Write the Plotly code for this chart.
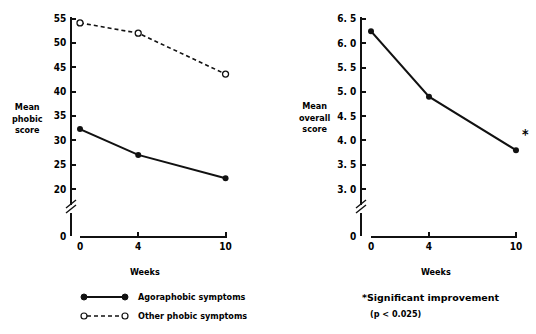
import plotly.graph_objects as go

weeks = [0, 4, 10]
agoraphobic = [32.3, 27.0, 22.2]
other_phobic = [54.1, 52.0, 43.6]
overall = [6.25, 4.9, 3.8]

left_yticks = [20, 25, 30, 35, 40, 45, 50, 55]
right_yticks = [3.0, 3.5, 4.0, 4.5, 5.0, 5.5, 6.0, 6.5]
right_yticklabels = ["3. 0", "3. 5", "4. 0", "4. 5", "5. 0", "5. 5", "6. 0", "6. 5"]

W, H = 536, 334
def fx(px):
    return px / W
def fy(py):
    return 1 - py / H

FONT = "DejaVu Sans Condensed, Liberation Sans, Arial"
tickfont = dict(family=FONT, size=10, color="black", weight="bold")
K = "#111"

fig = go.Figure()

fig.add_trace(go.Scatter(x=weeks, y=agoraphobic, mode="lines+markers",
                         line=dict(color=K, width=2), cliponaxis=False,
                         marker=dict(size=6, color=K),
                         xaxis="x", yaxis="y", showlegend=False))
fig.add_trace(go.Scatter(x=weeks, y=other_phobic, mode="lines+markers",
                         line=dict(color=K, width=1.6, dash="4px,3px"), cliponaxis=False,
                         marker=dict(size=6, color="white", line=dict(color=K, width=1.3)),
                         xaxis="x", yaxis="y", showlegend=False))
fig.add_trace(go.Scatter(x=weeks, y=overall, mode="lines+markers",
                         line=dict(color=K, width=2), cliponaxis=False,
                         marker=dict(size=6, color=K),
                         xaxis="x2", yaxis="y3", showlegend=False))
# invisible traces so the lower (broken) axis segments are drawn
for xa, ya in (("x", "y2"), ("x2", "y4")):
    fig.add_trace(go.Scatter(x=[weeks[0]], y=[0], mode="markers", opacity=0,
                             hoverinfo="skip", xaxis=xa, yaxis=ya, showlegend=False))

up_dom = [fy(205), fy(17)]
low_dom = [fy(236), fy(213)]

common_y = dict(showline=True, linecolor=K, linewidth=1.5, ticks="inside",
                ticklen=4, tickwidth=1.5, tickcolor=K, showgrid=False,
                zeroline=False, tickfont=tickfont, anchor="free", ticklabelstandoff=2,
                automargin=False)
common_x = dict(showline=True, linecolor=K, linewidth=1.5, ticks="inside",
                ticklen=4, tickwidth=1.5, tickcolor=K, showgrid=False,
                zeroline=False, tickfont=tickfont, tickvals=weeks, automargin=False)

fig.update_layout(
    template="none",
    width=W, height=H, margin=dict(l=0, r=0, t=0, b=0, autoexpand=False),
    paper_bgcolor="white", plot_bgcolor="white", showlegend=False,
    xaxis=dict(domain=[fx(80), fx(227)], range=[0, 10.1], anchor="y2", **common_x),
    yaxis=dict(domain=up_dom, range=[16.72, 55.31], tickvals=left_yticks,
               position=fx(71), **common_y),
    yaxis2=dict(domain=low_dom, range=[0, 1], tickvals=[0], position=fx(71), **common_y),
    xaxis2=dict(domain=[fx(371), fx(517)], range=[0, 10.07], anchor="y4", **common_x),
    yaxis3=dict(domain=up_dom, range=[2.671, 6.541], tickvals=right_yticks,
                ticktext=right_yticklabels, position=fx(361), **common_y),
    yaxis4=dict(domain=low_dom, range=[0, 1], tickvals=[0], position=fx(361), **common_y),
)

ann_font = dict(family=FONT, size=9, color="black", weight="bold")
def ann(text, px, py, xanchor="center", font=ann_font, align="center"):
    return dict(text=text, x=fx(px), y=fy(py), xref="paper", yref="paper",
                xanchor=xanchor, yanchor="middle", showarrow=False, font=font, align=align)

annotations = [
    ann("Mean<br>phobic<br>score", 27, 118),
    ann("Mean<br>overall<br>score", 315, 117),
    ann("Weeks", 145, 272),
    ann("Weeks", 436, 272),
    ann("*", 525, 134, font=dict(family=FONT, size=14, color="black", weight="bold")),
    ann("Agoraphobic symptoms", 136, 297, xanchor="left"),
    ann("Other phobic symptoms", 136, 316, xanchor="left"),
    ann("*Significant improvement", 360, 297, xanchor="left",
        font=dict(family="DejaVu Sans, Liberation Sans", size=9.5, color="black", weight="bold")),
    ann("(p < 0.025)", 368, 314, xanchor="left"),
]
fig.update_layout(annotations=annotations)

shapes = []
# axis break marks
for ax_px in (71, 361):
    shapes.append(dict(type="rect", xref="paper", yref="paper", layer="above",
                       x0=fx(ax_px - 2), x1=fx(ax_px + 2), y0=fy(212), y1=fy(205),
                       fillcolor="white", line=dict(width=0)))
    for dy in (0, 5):
        shapes.append(dict(type="line", xref="paper", yref="paper",
                           x0=fx(ax_px - 5), y0=fy(213 - dy), x1=fx(ax_px + 5), y1=fy(205 - dy),
                           line=dict(color=K, width=1.5)))

# legend samples
shapes.append(dict(type="line", xref="paper", yref="paper", x0=fx(84), x1=fx(125),
                   y0=fy(297), y1=fy(297), line=dict(color=K, width=2)))
for px in (84, 125):
    shapes.append(dict(type="circle", xref="paper", yref="paper", x0=fx(px - 3), x1=fx(px + 3),
                       y0=fy(300), y1=fy(294), fillcolor=K, line=dict(color=K, width=1)))
shapes.append(dict(type="line", xref="paper", yref="paper", x0=fx(87), x1=fx(122),
                   y0=fy(316), y1=fy(316), line=dict(color=K, width=1.5, dash="4px,3px")))
for px in (84, 125):
    shapes.append(dict(type="circle", xref="paper", yref="paper", x0=fx(px - 3), x1=fx(px + 3),
                       y0=fy(319), y1=fy(313), fillcolor="white", line=dict(color=K, width=1.2)))
fig.update_layout(shapes=shapes)

fig.write_html("out.html", config={"displayModeBar": False},
               post_script="document.body.style.margin='0';document.body.style.padding='0';")
